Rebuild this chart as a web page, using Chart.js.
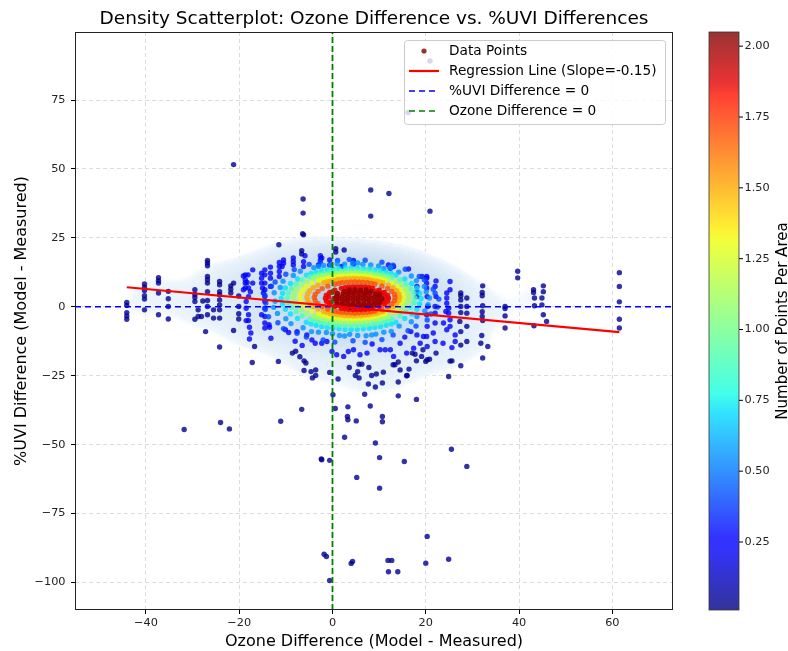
<!DOCTYPE html>
<html><head><meta charset="utf-8">
<script src="https://cdn.jsdelivr.net/npm/chart.js@4.4.0/dist/chart.umd.min.js"></script>
<style>html,body{margin:0;padding:0;background:#fff;}canvas{display:block;}</style>
</head><body>
<canvas id="c" width="788" height="651"></canvas>
<script>
// ---------------- data ----------------
const TITLE = 'Density Scatterplot: Ozone Difference vs. %UVI Differences';
const X_LABEL = 'Ozone Difference (Model - Measured)';
const Y_LABEL = '%UVI Difference (Model - Measured)';
const CB_LABEL = 'Number of Points Per Area';
const X_MIN = -55.2, X_MAX = 73, Y_MIN = -110, Y_MAX = 99.7;
const X_STEP = 20, Y_STEP = 25;
const CB_MIN = 0.01, CB_MAX = 2.05;
const cbTicks = [0.25, 0.5, 0.75, 1.0, 1.25, 1.5, 1.75, 2.0];
const legendLabels = ['Data Points', 'Regression Line (Slope=-0.15)', '%UVI Difference = 0', 'Ozone Difference = 0'];
const regX = [-44.1, 61.5];
const regY = [7.1, -9.2];

// points grouped by their estimated density (x,y pairs)
const darkRedPts = [0.4,3.0, 1.5,3.1, 2.7,2.9, 3.8,3.1, 5.0,3.0, 6.1,3.2, 7.3,2.9, 8.4,3.0, 9.6,3.1, 10.6,2.9,
 1.1,4.8, 2.3,4.9, 3.4,4.7, 4.6,4.9, 5.7,4.8, 6.9,4.7, 8.0,4.9, 9.2,4.7, 10.1,4.6,
 1.0,1.2, 2.1,1.1, 3.3,1.3, 4.4,1.1, 5.6,1.2, 6.7,1.0, 7.9,1.2, 9.0,1.1, 10.0,1.3,
 3.6,6.1, 4.8,6.2, 6.0,6.0, 7.2,6.1, 3.8,-0.1, 5.0,0.0, 6.2,-0.2, 7.4,0.0,
 0.9,2.1, 2.1,2.0, 3.2,2.2, 4.4,2.1, 5.5,2.0, 6.7,2.2, 7.8,2.1, 9.0,2.0, 10.1,2.1,
 0.9,3.9, 2.1,3.8, 3.2,4.0, 4.4,3.9, 5.5,3.8, 6.7,4.0, 7.8,3.9, 9.0,3.8, 10.1,3.9,
 2.6,5.6, 3.8,5.5, 4.9,5.7, 6.1,5.6, 7.2,5.5, 8.3,5.6, 2.6,0.4, 3.8,0.5, 4.9,0.3, 6.1,0.4, 7.2,0.5, 8.3,0.4];
const redPts = [12.0,3.1, 11.8,4.2, 11.1,5.2, 10.0,6.0, 8.6,6.7, 7.0,7.1, 5.2,7.2, 3.5,7.1, 1.9,6.7, 0.5,6.0, -0.6,5.2, -1.3,4.2,
 -1.5,3.1, -1.3,2.0, -0.6,1.0, 0.5,0.2, 1.9,-0.5, 3.5,-0.9, 5.2,-1.0, 7.0,-0.9, 8.6,-0.5, 10.0,0.2, 11.1,1.0, 11.8,2.0,
 7.8,6.9, 6.1,7.2, 4.4,7.2, 2.7,6.9, 2.7,-0.7, 4.4,-1.0, 6.1,-1.0, 7.8,-0.7,
 11.3,3.6, 10.6,4.9, 9.4,5.7, 0.0,5.4, -0.8,3.6, -0.3,1.8, 9.6,0.5, 10.9,1.9, 1.2,0.8];
const redOrangePts = [13.4,3.4, 13.3,4.5, 12.7,5.6, 11.8,6.6, 10.6,7.5, 9.1,8.2, 7.5,8.7, 5.7,8.9, 3.9,8.9, 2.1,8.7, 0.5,8.2, -1.0,7.5,
 -2.2,6.6, -3.1,5.6, -3.7,4.5, -3.9,3.4, -3.7,2.2, -3.1,1.1, -2.2,0.1, -1.0,-0.8, 0.5,-1.5, 2.1,-2.0, 3.9,-2.2, 5.7,-2.2,
 7.5,-2.0, 9.1,-1.5, 10.6,-0.8, 11.8,0.1, 12.7,1.1, 13.3,2.2, 8.3,8.5, 6.6,8.8, 4.8,9.0, 3.0,8.8, 1.3,8.5,
 1.3,-1.8, 3.0,-2.1, 4.8,-2.3, 6.6,-2.1, 8.3,-1.8];
const orangePts = [14.4,3.5, 14.2,4.7, 13.8,5.8, 13.0,6.9, 12.0,7.8, 10.8,8.7, 9.4,9.3, 7.8,9.9, 6.2,10.2, 4.5,10.3, 2.7,10.2, 1.1,9.9,
 -0.5,9.3, -1.9,8.7, -3.1,7.8, -4.1,6.9, -4.9,5.8, -5.3,4.7, -5.5,3.5, -5.3,2.3, -4.9,1.2, -4.1,0.1, -3.1,-0.8, -1.9,-1.7,
 -0.5,-2.4, 1.1,-2.9, 2.7,-3.2, 4.5,-3.3, 6.2,-3.2, 7.8,-2.9, 9.4,-2.4, 10.8,-1.7, 12.0,-0.8, 13.0,0.1, 13.8,1.2, 14.2,2.3,
 10.1,9.0, 8.6,9.6, 7.0,10.0, 5.3,10.2, 3.6,10.2, 1.9,10.0, 0.3,9.6, -1.2,9.0,
 -1.2,-2.0, 0.3,-2.6, 1.9,-3.0, 3.6,-3.2, 5.3,-3.2, 7.0,-3.0, 8.6,-2.6, 10.1,-2.0];
const yellowPts = [15.3,3.5, 15.1,4.9, 14.6,6.2, 13.8,7.4, 12.7,8.6, 11.3,9.5, 9.7,10.3, 8.0,10.9, 6.1,11.2, 4.2,11.4, 2.2,11.2, 0.3,10.9,
 -1.4,10.3, -3.0,9.5, -4.4,8.6, -5.5,7.4, -6.3,6.2, -6.8,4.9, -7.0,3.5, -6.8,2.1, -6.3,0.8, -5.5,-0.4, -4.4,-1.6, -3.0,-2.5,
 -1.4,-3.3, 0.3,-3.9, 2.2,-4.2, 4.2,-4.4, 6.1,-4.2, 8.0,-3.9, 9.7,-3.3, 11.3,-2.5, 12.7,-1.6, 13.8,-0.4, 14.6,0.8, 15.1,2.1,
 10.6,9.9, 8.9,10.6, 7.0,11.1, 5.1,11.3, 3.2,11.3, 1.3,11.1, -0.6,10.6, -2.3,9.9,
 -2.3,-2.9, -0.6,-3.6, 1.3,-4.1, 3.2,-4.3, 5.1,-4.3, 7.0,-4.1, 8.9,-3.6, 10.6,-2.9];
const greenPts = [16.4,3.4, 16.2,5.0, 15.7,6.5, 14.7,7.9, 13.5,9.2, 12.0,10.3, 10.2,11.2, 8.2,11.8, 6.2,12.2, 4.0,12.4, 1.8,12.2, -0.2,11.8,
 -2.2,11.2, -4.0,10.3, -5.5,9.2, -6.7,7.9, -7.7,6.5, -8.2,5.0, -8.4,3.4, -8.2,1.8, -7.7,0.3, -6.7,-1.1, -5.5,-2.4, -4.0,-3.5,
 -2.2,-4.4, -0.2,-5.0, 1.8,-5.4, 4.0,-5.6, 6.2,-5.4, 8.2,-5.0, 10.2,-4.4, 12.0,-3.5, 13.5,-2.4, 14.7,-1.1, 15.7,0.3, 16.2,1.8,
 11.1,10.7, 9.3,11.5, 7.2,12.1, 5.1,12.3, 2.9,12.3, 0.8,12.1, -1.3,11.5, -3.1,10.7,
 -3.1,-3.9, -1.3,-4.7, 0.8,-5.3, 2.9,-5.5, 5.1,-5.5, 7.2,-5.3, 9.3,-4.7, 11.1,-3.9];
const aquaPts = [17.7,3.2, 17.5,5.0, 16.8,6.6, 15.8,8.2, 14.5,9.7, 12.8,10.9, 10.8,11.9, 8.7,12.7, 6.4,13.1, 4.0,13.3, 1.6,13.1, -0.7,12.7,
 -2.8,11.9, -4.8,10.9, -6.5,9.7, -7.8,8.2, -8.8,6.6, -9.5,5.0, -9.7,3.2, -9.5,1.5, -8.8,-0.2, -7.8,-1.8, -6.5,-3.3, -4.8,-4.5,
 -2.8,-5.5, -0.7,-6.3, 1.6,-6.7, 4.0,-6.9, 6.4,-6.7, 8.7,-6.3, 10.8,-5.5, 12.8,-4.5, 14.5,-3.3, 15.8,-1.8, 16.8,-0.2, 17.5,1.5,
 11.8,11.4, 9.8,12.3, 7.5,12.9, 5.2,13.2, 2.8,13.2, 0.5,12.9, -1.8,12.3, -3.8,11.4,
 -3.8,-5.0, -1.8,-5.9, 0.5,-6.5, 2.8,-6.8, 5.2,-6.8, 7.5,-6.5, 9.8,-5.9, 11.8,-5.0];
const cyanPts = [19.0,3.0, 18.7,4.9, 18.1,6.8, 17.0,8.5, 15.5,10.1, 13.6,11.5, 11.5,12.6, 9.1,13.4, 6.6,13.9, 4.0,14.1, 1.4,13.9, -1.1,13.4,
 -3.5,12.6, -5.6,11.5, -7.5,10.1, -9.0,8.5, -10.1,6.8, -10.7,4.9, -11.0,3.0, -10.7,1.0, -10.1,-0.9, -9.0,-2.6, -7.5,-4.2, -5.6,-5.6,
 -3.5,-6.7, -1.1,-7.5, 1.4,-8.0, 4.0,-8.2, 6.6,-8.0, 9.1,-7.5, 11.5,-6.7, 13.6,-5.6, 15.5,-4.2, 17.0,-2.6, 18.1,-0.9, 18.7,1.0,
 12.6,12.1, 10.3,13.1, 7.9,13.7, 5.3,14.1, 2.7,14.1, 0.1,13.7, -2.3,13.1, -4.6,12.1,
 -4.6,-6.2, -2.3,-7.2, 0.1,-7.8, 2.7,-8.2, 5.3,-8.2, 7.9,-7.8, 10.3,-7.2, 12.6,-6.2];
const azurePts = [20.8,3.2, 20.1,5.5, 19.7,7.4, 18.0,9.5, 16.9,11.2, 14.2,12.6, 12.4,14.3, 9.9,14.8, 6.5,15.4, 4.3,15.8, 1.0,15.6, -1.9,15.0,
 -4.0,14.2, -6.9,12.9, -8.4,11.4, -10.6,9.3, -11.2,7.0, -12.5,5.1, -12.3,2.0, -12.6,-0.2, -11.8,-2.4, -10.0,-4.3, -8.9,-6.1, -6.3,-7.6,
 -4.5,-9.0, -1.3,-9.3, 1.5,-10.4, 3.7,-10.0, 7.2,-10.5, 9.3,-9.9, 12.6,-8.9, 14.3,-7.0, 16.9,-5.4, 18.1,-3.5, 19.8,-1.5, 20.5,0.8,
 11.0,13.9, 8.2,15.2, 5.4,15.9, 2.6,15.5, -0.4,15.2, -3.0,14.6, 0.0,-9.8, 2.6,-10.6, 5.4,-10.4, 8.4,-10.2, 11.0,-9.2, -3.0,-9.2];
const medBluePts = [22.8,2.8, 22.0,4.9, 21.6,6.4, 19.7,9.8, 18.6,11.0, 15.6,13.6, 13.0,15.1, 10.6,16.2, 7.0,16.9, 3.6,17.2, 1.1,16.8, -2.6,16.3,
 -5.0,15.4, -8.2,13.5, -10.0,11.8, -12.3,9.0, -13.1,7.5, -14.5,4.2, -14.3,1.4, -14.4,-1.0, -13.7,-3.6, -11.7,-5.8, -10.5,-7.9, -7.6,-9.6,
 -5.6,-11.0, -2.0,-12.0, 0.5,-12.8, 4.4,-12.3, 7.0,-12.9, 10.6,-11.9, 13.0,-10.2, 16.2,-8.7, 17.9,-7.0, 20.3,-4.8, 21.1,-2.6, 22.5,-0.1];
const bluePts = [-18.7,11.6, -18.1,11.6, -18.7,9.8, -18.7,8.6, -18.7,6.8, -18.0,6.8, -17.6,5.5, -17.1,13.4, -17.1,8.6, -18.0,3.7,
 -18.5,1.9, -18.5,-0.5, -18.0,-2.9, -18.5,-5.0, -18.0,-5.0, -17.8,-7.4, -17.5,-9.5, -17.8,-11.7, -19.1,11.2, -18.3,8.8, -19.1,6.2,
 -15.2,12.2, -15.2,10.4, -15.2,8.6, -15.0,6.8, -14.8,5.0, -14.5,13.4, -14.5,11.6, -14.5,8.6, -14.5,6.2, -14.5,3.7, -14.5,1.9,
 -14.5,-0.5, -14.5,-3.5, -14.5,-5.9, -14.5,-7.7, -15.2,-2.9,
 -13.3,14.4, -13.3,12.2, -13.3,10.4, -13.3,7.4, -11.4,16.1, -11.4,14.6, -11.4,12.8, -11.4,11.0,
 -10.5,17.0, -10.5,15.8, -10.8,14.6, -8.4,17.7, -8.4,16.4, -8.4,15.2, -5.9,18.5, -6.2,16.4, -6.2,14.6, -2.6,18.5, -2.6,17.0,
 -2.3,17.7, -3.0,15.2, -0.6,17.0, -0.6,15.2, 2.0,14.6, 4.5,16.8, 4.5,15.5,
 12.4,14.0, 12.0,15.2, 13.1,14.6, 16.3,13.7, 19.2,11.0, 20.2,11.0, 18.1,7.4, 18.1,5.5, 18.1,3.7,
 -13.6,-6.5, -13.5,-7.4, -13.2,-11.4, -8.0,-12.5, -6.5,-14.0, 8.5,-13.5, 15.5,-11.0, 16.8,-9.0,
 -10.1,-8.3, -9.4,-9.3, -7.6,-9.0, -5.5,-10.2, -4.4,-12.0, -3.7,-13.2, -2.3,-13.2, -1.2,-12.6, -0.1,-16.2, 0.9,-17.4,
 2.4,-18.0, 3.4,-16.2, 4.5,-15.6, 5.9,-17.4, 7.4,-16.8, 10.2,-15.6, 11.3,-15.6, 12.4,-15.6, 13.1,-18.0, 14.5,-13.2,
 15.9,-16.8, 17.4,-15.0, 18.8,-13.2, 19.5,-10.8, 18.1,-10.2,
 20.2,10.4, 20.2,8.6, 20.2,6.8, 20.3,3.7, 20.4,0.1, 20.2,-2.9, 20.3,-7.1, 20.2,-10.8, 20.3,-14.4, 22.2,9.4,
 22.0,7.4, 22.2,3.7, 22.0,0.1, 22.0,-2.3, 22.0,-5.9, 21.6,-9.5, 22.0,-12.6, 24.5,5.0, 24.5,3.2, 24.5,1.3, 24.3,-1.7,
 23.8,-5.9, 24.5,-8.3, 23.7,-13.2, 26.3,-10.2, 26.3,-12.6, 25.2,9.2, 25.2,6.2, 24.9,-0.5, 24.9,-2.3, 25.2,-4.7, 25.2,-7.1, 25.6,-14.8];
const navyPts = [-21.2,51.6, -6.3,39.1, -6.3,34.0, -6.4,26.5, -6.2,26.1, 8.2,42.4, 12.1,41.1, 8.2,32.9, 20.9,34.7, -11.5,22.5,
 20.9,89.2, 16.2,70.5, 0.7,21.1, 0.7,19.9, 2.5,20.6, -6.6,20.4, -6.6,19.2,
 -44.1,1.6, -44.1,0.5, -44.1,-2.1, -44.1,-3.3, -44.1,-4.5,
 -40.3,8.3, -40.3,7.1, -40.3,5.9, -40.3,4.0, -40.3,2.8, -40.3,-1.1,
 -37.3,10.6, -37.3,9.5, -37.3,8.6, -37.3,5.0, -37.3,-2.9,
 -35.2,5.6, -35.2,2.9, -35.2,0.1, -35.2,-4.4,
 -29.5,6.2, -29.5,4.5, -29.5,3.4, -29.5,1.9, -29.5,-4.5, -28.8,-3.5, -28.8,-1.1, -28.1,-3.5, -27.8,2.1,
 -26.8,16.8, -26.8,15.9, -26.8,14.9, -26.8,11.0, -26.8,9.8, -26.8,8.6, -26.8,5.5, -26.8,2.3, -26.8,0.1, -26.8,-2.9, -27.2,-9.0,
 -25.5,-1.1, -25.5,-4.1,
 -24.2,9.2, -24.2,8.0, -24.2,5.5, -24.2,4.4, -24.2,2.5, -24.2,0.7, -24.2,-1.1, -24.2,-4.1, -24.2,-14.6,
 -21.8,7.6, -21.8,6.4, -21.8,5.0, -21.2,8.6, -21.2,-8.6, -20.1,3.9, -20.1,0.1, -20.1,-2.5, -20.1,-4.4,
 -17.2,-20.2, -16.7,-14.4, -11.6,-19.8,
 -8.6,-16.8, -7.9,-16.1, -7.0,-18.1, -6.1,-19.6, -5.7,-20.4, -6.1,-23.1, -4.6,-23.5, -3.6,-22.9, -4.3,-25.8, -3.6,-24.9,
 -0.6,-23.8, 1.2,-26.2, 3.6,-22.0, 5.4,-23.5, 5.7,-20.8, 6.3,-20.8, 7.8,-22.0, 4.9,-24.9, 5.7,-25.8, 8.4,-24.9, 9.4,-24.4,
 7.7,-28.0, 9.2,-29.1, 10.9,-23.7, 10.7,-27.6, 16.0,-24.9, 13.0,-21.0, 13.4,-21.0, 14.1,-20.0, 18.0,-19.6, 19.1,-18.0,
 20.0,-19.8, 19.4,-15.6, 17.1,-16.8, 17.7,-17.2, 14.1,-27.3, 15.9,-25.0, 16.4,-22.6, 14.5,-22.9,
 20.3,-19.2, 22.2,-16.8, 25.6,-19.6, 24.9,-25.3, 27.5,-21.4, 20.8,-19.0, 25.2,-19.7, 32.2,-18.6, 31.8,-13.2, 33.3,-14.4, 32.0,-10.4,
 27.5,5.0, 27.5,4.0, 27.5,2.5, 27.5,0.1, 27.5,-2.1, 27.3,-5.3, 27.5,-9.0, 27.5,-13.9, 28.8,3.2, 28.8,0.1, 28.8,-2.3, 28.8,-7.1, 28.8,-12.6,
 32.2,7.6, 32.1,5.2, 32.1,4.0, 32.2,0.4, 32.1,-1.8, 32.1,-3.5, 32.2,-5.0,
 37.0,0.1, 37.0,-0.6, 37.0,-3.3, 37.0,-7.7, 39.7,12.9, 39.7,10.5,
 43.1,5.2, 43.1,6.2, 45.2,7.6, 45.2,5.5, 43.3,3.2, 44.9,3.2, 44.9,0.7, 43.3,0.4, 45.2,-2.9, 45.9,-5.3, 43.2,-6.9,
 61.5,12.4, 61.5,7.4, 61.5,1.8, 61.5,-4.5, 61.5,-7.7,
 -31.8,-44.5, -24.0,-42.0, -22.1,-44.3, -11.1,-41.5, 3.3,-41.0, 5.1,-41.4, 10.7,-41.7, 10.7,-39.8, 3.2,-39.8, 2.6,-47.3,
 9.2,-49.4, 25.5,-51.7, -2.4,-55.2, -2.3,-55.5, -0.6,-55.7, 10.1,-54.7, 15.4,-56.1, 28.8,-57.9, 5.2,-61.9, 10.1,-65.8,
 20.3,-83.3, -1.8,-89.8, -1.3,-90.6, 4.3,-92.4, 4.0,-93.1, 11.9,-92.0, 12.7,-92.0, 20.0,-93.0, 24.9,-91.6, 12.0,-96.1,
 14.0,-96.1, -0.6,-99.3,
 0.1,-31.9, -6.6,-37.2, 0.6,-36.9, 3.3,-36.3, 6.9,-31.7, 8.1,-36.0, 14.1,-32.3, 18.0,-33.6];

const bandPoints = [darkRedPts, redPts, redOrangePts, orangePts, yellowPts, greenPts, aquaPts, cyanPts, azurePts, medBluePts, bluePts, navyPts];
const bandDensity = [2.0, 1.86, 1.7, 1.5, 1.3, 1.1, 0.9, 0.72, 0.55, 0.4, 0.22, 0.04];

// ---------------- styling helpers ----------------
const FONT = 'DejaVu Sans';
const POINT_ALPHA = 0.8;
function interp(stops, t) {
  for (let i = 1; i < stops.length; i++) {
    if (t <= stops[i][0]) { const [x0, y0] = stops[i - 1], [x1, y1] = stops[i]; return y0 + (y1 - y0) * (t - x0) / (x1 - x0); }
  }
  return stops[stops.length - 1][1];
}
function jet(t) {
  t = Math.min(1, Math.max(0, t));
  return [interp([[0,0],[0.35,0],[0.66,1],[0.89,1],[1,0.5]], t),
          interp([[0,0],[0.125,0],[0.375,1],[0.64,1],[0.91,0],[1,0]], t),
          interp([[0,0.5],[0.11,1],[0.34,1],[0.65,0],[1,0]], t)];
}
function jetRGBA(t, a) { const c = jet(t); return `rgba(${Math.round(c[0]*255)},${Math.round(c[1]*255)},${Math.round(c[2]*255)},${a})`; }
const densT = d => (d - CB_MIN) / (CB_MAX - CB_MIN);
const BLUES = [[247,251,255],[222,235,247],[198,219,239],[158,202,225],[107,174,214],[66,146,198],[33,113,181],[8,81,156],[8,48,107]];
function blues(t) {
  t = Math.min(1, Math.max(0, t)) * (BLUES.length - 1);
  const i = Math.min(BLUES.length - 2, Math.floor(t)), f = t - i;
  return BLUES[i].map((v, k) => v + (BLUES[i + 1][k] - v) * f);
}
const toXY = arr => { const out = []; for (let i = 0; i < arr.length; i += 2) out.push({x: arr[i], y: arr[i + 1]}); return out; };

// ---------------- KDE background ----------------
const KDE_BW_X = 4.3, KDE_BW_Y = 4.0, KDE_W0 = 0.15, KDE_THRESH = 0.006;
function buildKde(chart) {
  const a = chart.chartArea, xs = chart.scales.x, ys = chart.scales.y;
  const step = 2;
  const W = Math.ceil((a.right - a.left) / step), H = Math.ceil((a.bottom - a.top) / step);
  const grid = new Float32Array(W * H);
  const sx = Math.abs(xs.getPixelForValue(KDE_BW_X) - xs.getPixelForValue(0)) / step;
  const sy = Math.abs(ys.getPixelForValue(KDE_BW_Y) - ys.getPixelForValue(0)) / step;
  bandPoints.forEach((arr, bi) => {
    const w = KDE_W0 + bandDensity[bi];
    for (let k = 0; k < arr.length; k += 2) {
      const cx = (xs.getPixelForValue(arr[k]) - a.left) / step, cy = (ys.getPixelForValue(arr[k + 1]) - a.top) / step;
      const x0 = Math.max(0, Math.floor(cx - 3.5 * sx)), x1 = Math.min(W - 1, Math.ceil(cx + 3.5 * sx));
      const y0 = Math.max(0, Math.floor(cy - 3.5 * sy)), y1 = Math.min(H - 1, Math.ceil(cy + 3.5 * sy));
      for (let j = y0; j <= y1; j++) {
        const dy = (j + 0.5 - cy) / sy;
        for (let i = x0; i <= x1; i++) {
          const dx = (i + 0.5 - cx) / sx;
          grid[j * W + i] += w * Math.exp(-0.5 * (dx * dx + dy * dy));
        }
      }
    }
  });
  let max = 0; for (let i = 0; i < grid.length; i++) if (grid[i] > max) max = grid[i];
  const cv = document.createElement('canvas'); cv.width = W; cv.height = H;
  const c2 = cv.getContext('2d'); const img = c2.createImageData(W, H);
  const lth = Math.log(1 / KDE_THRESH);
  for (let i = 0; i < grid.length; i++) {
    const v = grid[i] / max;
    if (v < KDE_THRESH) continue;
    const lv = Math.log(v / KDE_THRESH) / lth;
    const c = blues(0.03 + 0.3 * lv);
    const alpha = Math.min(1, (v / KDE_THRESH - 1) * 3);
    img.data[i*4] = c[0]; img.data[i*4+1] = c[1]; img.data[i*4+2] = c[2]; img.data[i*4+3] = Math.round(255 * alpha);
  }
  c2.putImageData(img, 0, 0);
  return cv;
}
const kdePlugin = {
  id: 'kdeBackground',
  beforeDatasetsDraw(chart) {
    const a = chart.chartArea, ctx = chart.ctx;
    if (!chart.$kde) chart.$kde = buildKde(chart);
    ctx.save();
    ctx.imageSmoothingEnabled = true; ctx.imageSmoothingQuality = 'high';
    ctx.drawImage(chart.$kde, a.left, a.top, a.right - a.left, a.bottom - a.top);
    ctx.restore();
  }
};

// ---------------- frame, colorbar, legend ----------------
const decorPlugin = {
  id: 'decor',
  afterDraw(chart) {
    const ctx = chart.ctx, a = chart.chartArea;
    ctx.save();
    ctx.strokeStyle = '#222'; ctx.lineWidth = 1; ctx.setLineDash([]);
    ctx.strokeRect(Math.round(a.left) + 0.5, Math.round(a.top) + 0.5, Math.round(a.right - a.left) - 1, Math.round(a.bottom - a.top) - 1);

    const cbL = a.right + 36, cbW = 30, cbT = a.top, cbB = a.bottom;
    const grad = ctx.createLinearGradient(0, cbB, 0, cbT);
    for (let i = 0; i <= 64; i++) grad.addColorStop(i / 64, jetRGBA(i / 64, POINT_ALPHA));
    ctx.fillStyle = grad; ctx.fillRect(cbL, cbT, cbW, cbB - cbT);
    ctx.strokeStyle = '#333'; ctx.lineWidth = 0.8; ctx.strokeRect(cbL, cbT, cbW, cbB - cbT);
    ctx.font = `11.3px "${FONT}"`; ctx.fillStyle = '#222'; ctx.textAlign = 'left'; ctx.textBaseline = 'middle';
    ctx.strokeStyle = '#000'; ctx.lineWidth = 1;
    cbTicks.forEach(v => {
      const y = cbB - (v - CB_MIN) / (CB_MAX - CB_MIN) * (cbB - cbT);
      ctx.beginPath(); ctx.moveTo(cbL + cbW, y); ctx.lineTo(cbL + cbW + 4, y); ctx.stroke();
      ctx.fillText(v.toFixed(2), cbL + cbW + 5.5, y);
    });
    ctx.save();
    ctx.translate(783, (cbT + cbB) / 2); ctx.rotate(-Math.PI / 2);
    ctx.font = `15px "${FONT}"`; ctx.fillStyle = '#000'; ctx.textAlign = 'center'; ctx.textBaseline = 'middle';
    ctx.fillText(CB_LABEL, 0, 0);
    ctx.restore();

    const lw = 261, lh = 84, lx = a.right - 8 - lw, ly = a.top + 8;
    ctx.beginPath(); ctx.roundRect(lx + 0.5, ly + 0.5, lw, lh, 3);
    ctx.fillStyle = 'rgba(255,255,255,0.8)'; ctx.fill();
    ctx.strokeStyle = '#cccccc'; ctx.lineWidth = 1; ctx.stroke();
    ctx.font = `13.7px "${FONT}"`; ctx.textAlign = 'left'; ctx.textBaseline = 'middle';
    legendLabels.forEach((txt, i) => {
      const y = ly + 11 + i * 20, hx0 = lx + 5, hx1 = lx + 35;
      if (i === 0) {
        ctx.beginPath(); ctx.arc(lx + 20, y, 2.6, 0, Math.PI * 2); ctx.fillStyle = jetRGBA(1, POINT_ALPHA); ctx.fill();
      } else {
        ctx.beginPath(); ctx.moveTo(hx0, y); ctx.lineTo(hx1, y);
        if (i === 1) { ctx.strokeStyle = '#ff0000'; ctx.lineWidth = 2.2; ctx.setLineDash([]); }
        if (i === 2) { ctx.strokeStyle = '#0000ff'; ctx.lineWidth = 1.6; ctx.setLineDash([6, 4]); }
        if (i === 3) { ctx.strokeStyle = '#008000'; ctx.lineWidth = 1.6; ctx.setLineDash([6, 4]); }
        ctx.stroke(); ctx.setLineDash([]);
      }
      ctx.fillStyle = '#000'; ctx.fillText(txt, lx + 45, y);
    });
    ctx.restore();
  }
};

// ---------------- datasets ----------------
const datasets = [
  { label: legendLabels[1], data: regX.map((x, i) => ({x, y: regY[i]})), showLine: true, pointRadius: 0,
    borderColor: '#ff0000', borderWidth: 2.2, order: 0 },
  { label: legendLabels[2], data: [{x: X_MIN, y: 0}, {x: X_MAX, y: 0}], showLine: true, pointRadius: 0,
    borderColor: '#0000ff', borderWidth: 1.6, borderDash: [6, 4], order: 0 },
  { label: legendLabels[3], data: [{x: 0, y: Y_MIN}, {x: 0, y: Y_MAX}], showLine: true, pointRadius: 0,
    borderColor: '#008000', borderWidth: 1.8, borderDash: [6, 3], order: 0 }
];
bandPoints.forEach((arr, i) => {
  const alpha = bandDensity[i] >= 1.8 ? 0.92 : POINT_ALPHA;
  datasets.push({ label: legendLabels[0], data: toXY(arr), pointRadius: 2.7, pointHoverRadius: 2.7, borderWidth: 0,
    pointBorderWidth: 0, backgroundColor: jetRGBA(densT(bandDensity[i]), alpha), order: i + 1 });
});

const tickMinus = v => (v < 0 ? '\u2212' + Math.abs(v) : String(v));
const gridOpts = { color: '#dcdcdc', lineWidth: 1, borderDash: [4, 3], drawTicks: true, tickLength: 4, tickColor: '#000', tickWidth: 1, tickBorderDash: [] };

new Chart(document.getElementById('c'), {
  type: 'scatter',
  data: { datasets },
  options: {
    responsive: false, animation: false, events: [],
    layout: { padding: { left: 0, right: 115, top: 0, bottom: 0 } },
    plugins: {
      legend: { display: false }, tooltip: { enabled: false },
      title: { display: true, text: TITLE, fullSize: false, color: '#000',
        font: { family: FONT, size: 18.5, weight: 'normal' }, padding: { top: 8.5, bottom: 1.3 } }
    },
    scales: {
      x: { type: 'linear', min: X_MIN, max: X_MAX,
        afterFit(s) { s.height = 41; },
        ticks: { stepSize: X_STEP, includeBounds: false, callback: tickMinus, color: '#222', padding: 2, maxRotation: 0,
          font: { family: FONT, size: 11.3 } },
        title: { display: true, text: X_LABEL, color: '#000', font: { family: FONT, size: 16 }, padding: { top: 0, bottom: 0 } },
        grid: gridOpts, border: { display: false, dash: [4, 3] } },
      y: { type: 'linear', min: Y_MIN, max: Y_MAX,
        afterFit(s) { s.width = 75; },
        ticks: { stepSize: Y_STEP, includeBounds: false, callback: tickMinus, color: '#222', padding: 5.5,
          font: { family: FONT, size: 11.3 } },
        title: { display: true, text: Y_LABEL, color: '#000', font: { family: FONT, size: 16 }, padding: { top: 11.9, bottom: 0 } },
        grid: gridOpts, border: { display: false, dash: [4, 3] } }
    }
  },
  plugins: [kdePlugin, decorPlugin]
});
</script>
</body></html>
